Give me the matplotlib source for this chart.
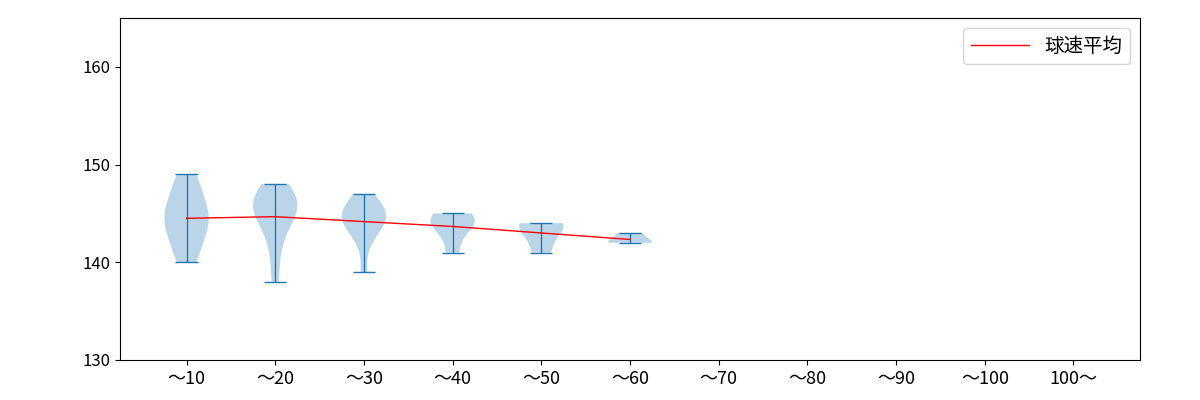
import matplotlib
matplotlib.use("Agg")
import matplotlib.pyplot as plt
import numpy as np

plt.rcParams['font.family'] = ['Noto Sans CJK JP', 'DejaVu Sans']

labels = ["～10", "～20", "～30", "～40", "～50", "～60", "～70", "～80", "～90", "～100", "100～"]
speeds = [
    [140, 141, 142, 143, 144, 144, 145, 145, 146, 147, 148, 149],
    [138, 141, 143, 144, 145, 145, 146, 146, 146, 147, 147, 148],
    [139, 142, 143, 144, 144, 144, 145, 145, 145, 146, 146, 147],
    [141, 143, 144, 144, 145, 145],
    [141, 143, 144, 144],
    [142, 142, 143],
    [], [], [], [], [],
]

fig = plt.figure(figsize=(12, 4), dpi=100)
ax = fig.add_axes([0.1, 0.1, 0.85, 0.855])

pos = [i + 1 for i, s in enumerate(speeds) if len(s) > 0]
data = [s for s in speeds if len(s) > 0]
parts = ax.violinplot(data, positions=pos)
for k in ('cbars', 'cmins', 'cmaxes'):
    parts[k].set_linewidth(1)
means = [np.mean(s) for s in data]
ax.plot(pos, means, color='red', lw=1, label='球速平均')

ax.set_xticks(range(1, len(labels) + 1))
ax.set_xticklabels(labels, fontsize=13)
ax.tick_params(axis='y', labelsize=12)
ax.set_xlim(0.25, 11.75)
ax.set_ylim(130, 165)
ax.set_yticks([130, 140, 150, 160])
ax.legend(loc='upper right', fontsize=14, handlelength=3)
fig.savefig("out.png")
